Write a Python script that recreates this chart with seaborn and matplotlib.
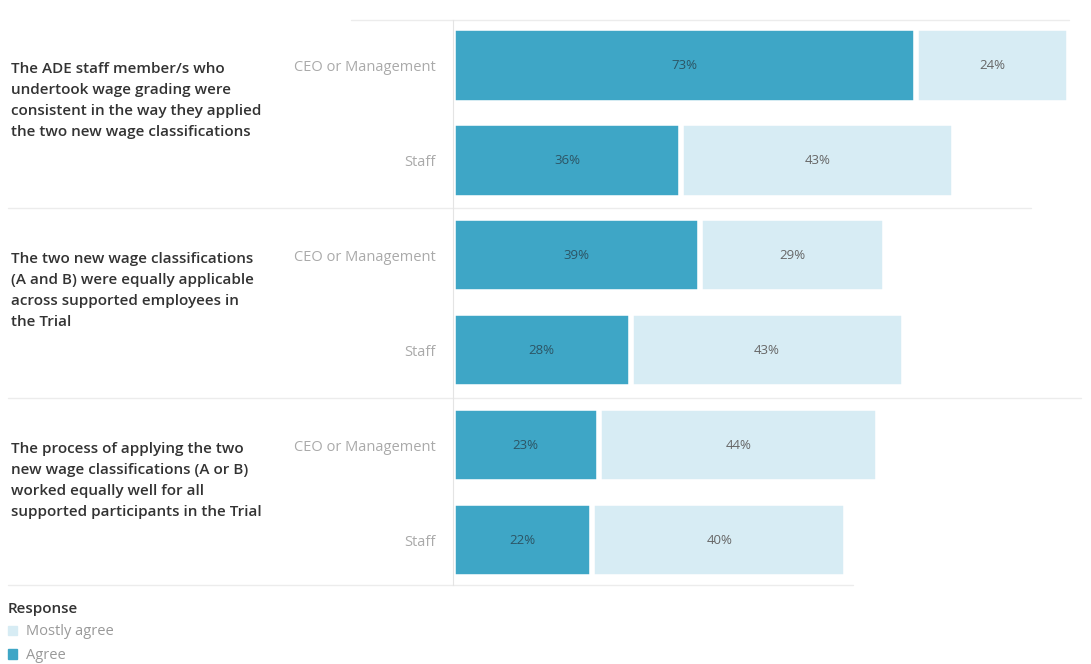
import numpy as np
import pandas as pd
import seaborn as sns
import matplotlib.pyplot as plt
from matplotlib.patches import Patch

# data
questions = [
    "The ADE staff member/s who\nundertook wage grading were\nconsistent in the way they applied\nthe two new wage classifications",
    "The two new wage classifications\n(A and B) were equally applicable\nacross supported employees in\nthe Trial",
    "The process of applying the two\nnew wage classifications (A or B)\nworked equally well for all\nsupported participants in the Trial",
]
groups = ["CEO or Management", "Staff"]
agree = [73, 36, 39, 28, 23, 22]
mostly_agree = [24, 43, 29, 43, 44, 40]

c_agree = "#3ea6c6"
c_mostly = "#d7ecf4"

rows = []
for qi, q in enumerate(questions):
    for gi, g in enumerate(groups):
        k = qi * 2 + gi
        rows.append({"row": f"{qi}-{g}", "group": g,
                     "Agree": agree[k], "Mostly agree": mostly_agree[k],
                     "total": agree[k] + mostly_agree[k]})
df = pd.DataFrame(rows)

sns.set_style("white")
plt.rcParams['font.family'] = ['Open Sans', 'DejaVu Sans']

fig = plt.figure(figsize=(10.91, 6.64), dpi=100)
ax = fig.add_axes([0.415, 0.119, 0.582, 0.851])

order = list(df["row"])
sns.barplot(data=df, x="total", y="row", order=order, color=c_mostly, saturation=1,
            width=0.78, edgecolor="white", linewidth=4, ax=ax)
sns.barplot(data=df, x="Agree", y="row", order=order, color=c_agree, saturation=1,
            width=0.78, edgecolor="white", linewidth=4, ax=ax)

# segment labels
for i, r in df.iterrows():
    ax.text(r["Agree"] / 2, i, f"{r['Agree']}%", ha="center", va="center",
            fontsize=9.5, color="#2c5565")
    ax.text(r["Agree"] + r["Mostly agree"] / 2, i, f"{r['Mostly agree']}%",
            ha="center", va="center", fontsize=9.5, color="#666666")

ax.set_xlim(0, 100)
ax.set_ylim(5.47, -0.48)
ax.set_xticks([])
ax.set_yticks(range(len(df)))
ax.set_yticklabels(df["group"], fontsize=10.5, color="#aaaaaa")
ax.tick_params(axis="y", length=0, pad=12)
ax.set_xlabel("")
ax.set_ylabel("")
for s in ["top", "right", "bottom"]:
    ax.spines[s].set_visible(False)
ax.spines["left"].set_color("#e4e4e4")

# group separators
ytr = ax.get_yaxis_transform()
for yy, x0, x1 in [(-0.48, -0.16, 0.97), (1.5, -0.70, 0.91), (3.5, -0.70, 0.99), (5.47, -0.70, 0.63)]:
    ax.plot([x0, x1], [yy, yy], color="#ececec", lw=1, transform=ytr, clip_on=False)

# question labels
for qi, q in enumerate(questions):
    ax.text(-0.695, qi * 2 - 0.04, q, transform=ytr, ha="left", va="top",
            fontsize=11, color="#333333", linespacing=1.65, fontweight="semibold")

handles = [Patch(color=c_mostly, label="Mostly agree"), Patch(color=c_agree, label="Agree")]
leg = fig.legend(handles=handles, title="Response", loc="upper left",
                 bbox_to_anchor=(0.006, 0.096), frameon=False, fontsize=10.5,
                 title_fontsize=11, handlelength=0.6, handleheight=0.6,
                 handletextpad=0.6, labelspacing=0.6, alignment="left",
                 borderaxespad=0, borderpad=0.1)
for t in leg.get_texts():
    t.set_color("#999999")
leg.get_title().set_fontweight("semibold")
leg.get_title().set_color("#333333")

fig.savefig("out.png", dpi=100)
